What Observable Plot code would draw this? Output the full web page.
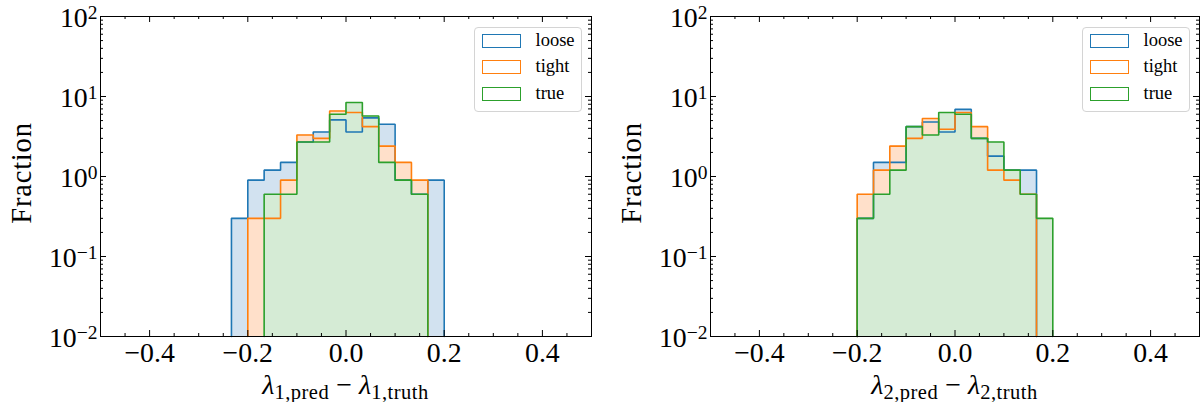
<!DOCTYPE html>
<html><head><meta charset="utf-8">
<script src="https://cdn.jsdelivr.net/npm/d3@7"></script>
<script src="https://cdn.jsdelivr.net/npm/@observablehq/plot@0.6"></script>
<style>
html,body{margin:0;padding:0;background:#fff;}
#root{display:flex;width:1200px;height:402px;overflow:hidden;}
.panel{position:relative;width:600px;height:402px;flex:none;}
.legend{position:absolute;background:rgba(255,255,255,0.8);border:1px solid #d4d4d4;border-radius:4px;box-sizing:border-box;font-family:"Liberation Serif",serif;font-size:18.5px;color:#000;}
.row{position:absolute;left:7px;height:14px;display:flex;align-items:center;}
.sw{width:39px;height:14px;box-sizing:border-box;border:1.6px solid;background:#fff;flex:none;}
.lab{margin-left:15px;line-height:14px;position:relative;top:-1px;}
</style></head><body><div id="root"></div><script>
// ---- data ----
const seriesNames = ["loose", "tight", "true"];
const lineColors = ["#1f77b4", "#ff7f0e", "#2ca02c"];
const fillColors = ["#d2e2f0", "#ffe0ca", "#d5ebd5"];

// panel 1: λ1 — bin edges and heights (null = empty bin)
const edges1 = [-0.2333, -0.2, -0.1667, -0.1333, -0.1, -0.0667, -0.0333, 0, 0.0333, 0.0667, 0.1, 0.1333, 0.1667, 0.2];
const loose1 = [0.3, 0.9, 1.2, 1.5, 2.7, 3.6, 5.1, 3.6, 5.4, 4.5, 0.9, 0.6, 0.9];
const tight1 = [null, 0.3, 0.3, 0.9, 3.3, 3.0, 6.6, 6.3, 4.2, 2.4, 1.5, 0.9, null];
const true1  = [null, null, 0.6, 0.6, 2.7, 2.7, 6.0, 8.4, 5.7, 1.5, 0.9, 0.6, null];

// panel 2: λ2
const edges2 = [-0.2, -0.1667, -0.1333, -0.1, -0.0667, -0.0333, 0, 0.0333, 0.0667, 0.1, 0.1333, 0.1667, 0.2];
const loose2 = [0.3, 1.5, 1.5, 4.2, 4.8, 3.6, 6.9, 3.0, 1.8, 1.2, 1.2, null];
const tight2 = [0.6, 1.2, 2.4, 3.0, 5.3, 3.9, 6.3, 4.2, 1.2, 0.9, 0.6, null];
const true2  = [0.3, 0.6, 1.2, 4.2, 3.3, 6.3, 6.0, 3.0, 2.7, 1.2, 0.6, 0.3];

// ticks
const xMajor = [-0.4, -0.2, 0, 0.2, 0.4];
const xMinor = [-0.45, -0.35, -0.3, -0.25, -0.15, -0.1, -0.05, 0.05, 0.1, 0.15, 0.25, 0.3, 0.35, 0.45];
const yMajor = [1e-2, 1e-1, 1e0, 1e1, 1e2];
const yExp = ["\u22122", "\u22121", "0", "1", "2"];
const yMinor = [];
for (const dec of [1e-2, 1e-1, 1e0, 1e1]) for (const m of [2,3,4,5,6,7,8,9]) yMinor.push(m * dec);
const xDomain = [-0.5, 0.5];
const yDomain = [1e-2, 1e2];

// ---- helpers ----
function stepPts(edges, vals) {
  let i0 = vals.findIndex(v => v != null);
  let i1 = vals.length - 1; while (vals[i1] == null) i1--;
  const pts = [];
  for (let i = i0; i <= i1; i++) pts.push({x: edges[i], y: vals[i]});
  pts.push({x: edges[i1 + 1], y: vals[i1]});
  return pts;
}
function outlinePts(pts) {
  return [{x: pts[0].x, y: yDomain[0]}, ...pts, {x: pts[pts.length - 1].x, y: yDomain[0]}];
}

const FONT = "Liberation Serif, Times New Roman, serif";
const H = 402, MT = 16, MB = 66;

function panel(edges, seriesVals, idx, ml, mr) {
  const W = 600 - ml - mr, FH = H - MT - MB;
  const steps = seriesVals.map(v => stepPts(edges, v));
  const marks = [];
  steps.forEach((p, i) => marks.push(Plot.areaY(p, {x: "x", y1: () => yDomain[0], y2: "y", curve: "step-after", fill: fillColors[i]})));
  steps.forEach((p, i) => marks.push(Plot.line(outlinePts(p), {x: "x", y: "y", curve: "step-after", stroke: lineColors[i], strokeWidth: 1.6, strokeLinejoin: "miter"})));
  marks.push(Plot.frame({stroke: "#000", strokeWidth: 1}));
  const tk = {stroke: "#000", strokeWidth: 1};
  marks.push(Plot.tickX(xMajor, {x: d => d, insetTop: FH - 6, ...tk}));
  marks.push(Plot.tickX(xMajor, {x: d => d, insetBottom: FH - 6, ...tk}));
  marks.push(Plot.tickX(xMinor, {x: d => d, insetTop: FH - 3, ...tk}));
  marks.push(Plot.tickX(xMinor, {x: d => d, insetBottom: FH - 3, ...tk}));
  marks.push(Plot.tickY(yMajor, {y: d => d, insetRight: W - 6, ...tk}));
  marks.push(Plot.tickY(yMajor, {y: d => d, insetLeft: W - 6, ...tk}));
  marks.push(Plot.tickY(yMinor, {y: d => d, insetRight: W - 3, ...tk}));
  marks.push(Plot.tickY(yMinor, {y: d => d, insetLeft: W - 3, ...tk}));
  marks.push(Plot.axisX({ticks: xMajor, tickSize: 0, tickPadding: 6, label: null, fontSize: 27.8,
    tickFormat: d => d === 0 ? "0.0" : (d < 0 ? "\u2212" : "") + Math.abs(d).toFixed(1)}));
  marks.push(Plot.axisY({ticks: yMajor, tickSize: 0, tickPadding: 3, label: null, fontSize: 27.8, dy: 2,
    tickFormat: d => yExp[yMajor.indexOf(d)]}));

  const svg = Plot.plot({
    width: 600, height: H, marginLeft: ml, marginRight: mr, marginTop: MT, marginBottom: MB,
    x: {domain: xDomain}, y: {type: "log", domain: yDomain},
    style: {fontFamily: FONT, fontSize: "27.8px", background: "#fff", color: "#000", overflow: "visible"},
    marks
  });

  // superscripts on y tick labels
  const texts = svg.querySelectorAll('g[aria-label="y-axis tick label"] text');
  texts.forEach(t => {
    const e = t.textContent;
    t.textContent = "";
    const a = document.createElementNS("http://www.w3.org/2000/svg", "tspan");
    a.textContent = "10";
    const b = document.createElementNS("http://www.w3.org/2000/svg", "tspan");
    b.textContent = e; b.setAttribute("font-size", "19.5px"); b.setAttribute("dy", "-8");
    t.appendChild(a); t.appendChild(b);
  });

  const s = d3.select(svg);
  const cx = ml + W / 2;
  // y label
  s.append("text").attr("transform", `translate(${ml - 69},173) rotate(-90)`)
    .attr("text-anchor", "middle").attr("font-family", FONT).attr("font-size", "28.5px")
    .attr("letter-spacing", "0.8px").attr("fill", "#000").text("Fraction");
  // x label
  const t = s.append("text").attr("x", cx).attr("y", 394).attr("text-anchor", "middle")
    .attr("font-family", FONT).attr("font-size", "28px").attr("fill", "#000");
  t.append("tspan").attr("font-style", "italic").text("\u03bb");
  t.append("tspan").attr("font-size", "20.5px").attr("dy", 5).attr("letter-spacing", "0.5px").text(`${idx},pred`);
  t.append("tspan").attr("dy", -5).text(" \u2212 ");
  t.append("tspan").attr("font-style", "italic").text("\u03bb");
  t.append("tspan").attr("font-size", "20.5px").attr("dy", 5).attr("letter-spacing", "0.5px").text(`${idx},truth`);

  const div = document.createElement("div");
  div.className = "panel";
  div.appendChild(svg);
  // legend
  const lg = document.createElement("div");
  lg.className = "legend";
  const lgW = 108, lgH = 85;
  lg.style.left = (600 - mr - 9.5 - lgW) + "px";
  lg.style.top = (MT + 10.5) + "px";
  lg.style.width = lgW + "px"; lg.style.height = lgH + "px";
  seriesNames.forEach((n, i) => {
    const r = document.createElement("div");
    r.className = "row"; r.style.top = (6 + i * 26.7) + "px";
    const sw = document.createElement("div"); sw.className = "sw"; sw.style.borderColor = lineColors[i];
    const lb = document.createElement("span"); lb.className = "lab"; lb.textContent = n;
    r.appendChild(sw); r.appendChild(lb); lg.appendChild(r);
  });
  div.appendChild(lg);
  return div;
}

const root = document.getElementById("root");
root.appendChild(panel(edges1, [loose1, tight1, true1], 1, 100, 9));
root.appendChild(panel(edges2, [loose2, tight2, true2], 2, 110, 1));
</script></body></html>
